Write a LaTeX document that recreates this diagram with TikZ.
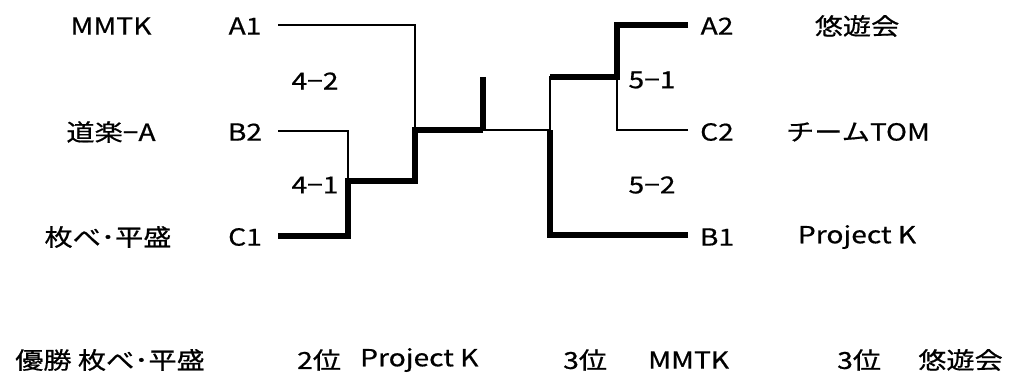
\documentclass[tikz,border=0pt]{standalone}
\usepackage{fontspec}
\setmainfont{Noto Sans CJK JP}[FakeStretch=1.2,FakeBold=0.6]

\begin{document}
\begin{tikzpicture}[x=1pt,y=-1pt,
        thinline/.style={line width=2.8pt},
        thickline/.style={line width=6pt},
        lbl/.style={inner sep=0pt,font=\fontsize{23.5}{28}\selectfont}]
        \useasboundingbox (0,0) rectangle (1014,390);
        % team names, left
        \node[lbl](n1) at (111,26)  {MMTK};
        \node[lbl](n2) at (111,132) {道楽−A};
        \node[lbl](n3) at (108,237) {枚べ･平盛};
        \node[lbl](a1) at (245,26)  {A1};
        \node[lbl](b2) at (245,132) {B2};
        \node[lbl](c1) at (245,237) {C1};
        \node[lbl](s42) at (315,81) {4−2};
        \node[lbl](s41) at (315,185) {4−1};
        % team names, right
        \node[lbl](a2) at (717,26)  {A2};
        \node[lbl](c2) at (717,132) {C2};
        \node[lbl](b1) at (717,237) {B1};
        \node[lbl](n4) at (857,26)  {悠遊会};
        \node[lbl](n5) at (858,132) {チームTOM};
        \node[lbl](n6) at (857,237) {Project K};
        \node[lbl](s51) at (652,80) {5−1};
        \node[lbl](s52) at (652,185) {5−2};
        % line ends and corners
        \coordinate (a1e) at (278,25);
        \coordinate (b2e) at (278,131);
        \coordinate (c1e) at (278,236);
        \coordinate (a2e) at (688,25);
        \coordinate (c2e) at (688,130);
        \coordinate (b1e) at (688,235);
        \coordinate (l1) at (348,181);
        \coordinate (l2) at (415,130);
        \coordinate (r1) at (617,77);
        \coordinate (r2) at (550,130);
        \coordinate (top) at (483,77);
        \coordinate (mid) at (483,130);
        % bracket
        \draw[thinline] (a1e) -| (l2);
        \draw[thinline] (b2e) -| (l1);
        \draw[thickline] (c1e) -| (l1) -| (l2) -- (mid);
        \draw[thickline] (top) -- (mid);
        \draw[thinline] (mid) -- (r2) |- (r1);
        \draw[thickline] (a2e) -| (r1) -- (r1 -| r2);
        \draw[thinline] (c2e) -| (r1);
        \draw[thickline] (b1e) -| (r2);
        % results
        \node[lbl,anchor=west](w1) at (15,360)  {優勝 枚べ･平盛};
        \node[lbl,anchor=west](p2) at (297,360) {2位};
        \node[lbl,anchor=west](w2) at (360,360) {Project K};
        \node[lbl,anchor=west](p3) at (563,360) {3位};
        \node[lbl,anchor=west](w3) at (648,360) {MMTK};
        \node[lbl,anchor=west](p4) at (837,360) {3位};
        \node[lbl,anchor=west](w4) at (918,360) {悠遊会};
\end{tikzpicture}
\end{document}
